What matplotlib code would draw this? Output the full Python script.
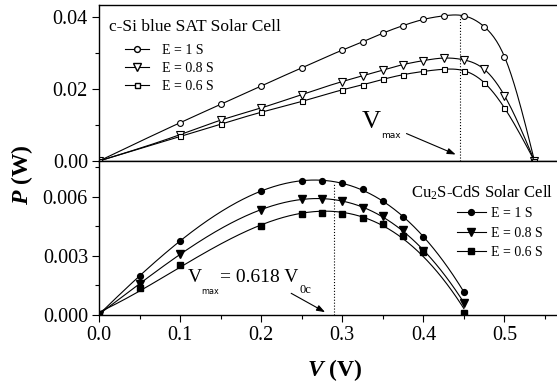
import numpy as np
import matplotlib
matplotlib.use("Agg")
import matplotlib.pyplot as plt
from matplotlib.ticker import MultipleLocator, FormatStrFormatter

plt.rcParams['font.family'] = ['Liberation Serif', 'DejaVu Serif']
plt.rcParams['mathtext.fontset'] = 'custom'
plt.rcParams['mathtext.rm'] = 'Liberation Serif'
plt.rcParams['mathtext.it'] = 'Liberation Serif:italic'
plt.rcParams['mathtext.bf'] = 'Liberation Serif:bold'
plt.rcParams['mathtext.bfit'] = 'Liberation Serif:italic:bold'

# c-Si blue SAT solar cell (top panel)
v_si = [0, 0.1, 0.15, 0.2, 0.25, 0.3, 0.325, 0.35, 0.375, 0.4, 0.425, 0.45, 0.475, 0.5, 0.537]
p_si_1 = [0, 0.0106, 0.0157, 0.0208, 0.0258, 0.0307, 0.0330, 0.0354, 0.0375, 0.0392, 0.0402, 0.0402, 0.0372, 0.0289, 0]
p_si_08 = [0, 0.0073, 0.0113, 0.0147, 0.0184, 0.0220, 0.0236, 0.0252, 0.0267, 0.0278, 0.0285, 0.0280, 0.0254, 0.0181, 0]
p_si_06 = [0, 0.0068, 0.0102, 0.0135, 0.0165, 0.0197, 0.0211, 0.0226, 0.0239, 0.0248, 0.0254, 0.0250, 0.0217, 0.0147, 0]
vmax_si = 0.4455
pmax_si = 0.0402

# Cu2S-CdS solar cell (bottom panel)
v_cu = [0, 0.05, 0.1, 0.2, 0.25, 0.275, 0.3, 0.325, 0.35, 0.375, 0.4, 0.45]
p_cu_1 = [0, 0.00198, 0.00374, 0.00630, 0.00681, 0.00683, 0.00672, 0.00638, 0.00578, 0.00495, 0.00397, 0.00116]
p_cu_08 = [0, 0.00158, 0.00308, 0.00533, 0.00588, 0.00590, 0.00580, 0.00541, 0.00502, 0.00431, 0.00324, 0.00060]
p_cu_06 = [0, 0.00133, 0.00252, 0.00451, 0.00511, 0.00516, 0.00513, 0.00490, 0.00460, 0.00400, 0.00320, 0.00010]
vmax_cu = 0.29
pmax_cu = 0.0067

labels = ['E = 1 S', 'E = 0.8 S', 'E = 0.6 S']


def nat_spline(x, y, xn):
    # natural cubic spline, only used to draw the smooth line through the points
    x = np.asarray(x, float); y = np.asarray(y, float)
    n = len(x); h = np.diff(x)
    A = np.zeros((n, n)); r = np.zeros(n)
    A[0, 0] = A[-1, -1] = 1
    for i in range(1, n - 1):
        A[i, i-1] = h[i-1]; A[i, i] = 2*(h[i-1] + h[i]); A[i, i+1] = h[i]
        r[i] = 3*((y[i+1]-y[i])/h[i] - (y[i]-y[i-1])/h[i-1])
    c = np.linalg.solve(A, r)
    b = (y[1:]-y[:-1])/h - h*(2*c[:-1] + c[1:])/3
    d = (c[1:]-c[:-1])/(3*h)
    k = np.clip(np.searchsorted(x, xn) - 1, 0, n-2)
    t = xn - x[k]
    return y[k] + b[k]*t + c[k]*t**2 + d[k]*t**3


W, H = 557, 385
def fx(px): return px / W
def fy(py): return 1 - py / H

fig = plt.figure(figsize=(5.57, 3.85), dpi=100)
ax1 = fig.add_axes([fx(99), fy(161), fx(558) - fx(99), fy(5) - fy(161)])
ax2 = fig.add_axes([fx(99), fy(314.5), fx(558) - fx(99), fy(161) - fy(314.5)])

lw = 0.8
# top panel
xs = np.linspace(0, v_si[-1], 300)
for p, m, ms in [(p_si_1, 'o', 4.2), (p_si_08, 'v', 5.5), (p_si_06, 's', 3.6)]:
    ax1.plot(xs, nat_spline(v_si, p, xs), color='black', lw=lw)
    ax1.plot(v_si, p, m, ms=ms, mfc='white', mec='black', mew=0.8)
ax1.plot([vmax_si, vmax_si], [0, pmax_si], ':', color='black', lw=0.8)

# bottom panel
xb = np.linspace(0, v_cu[-1], 300)
for p, m, ms in [(p_cu_1, 'o', 4.2), (p_cu_08, 'v', 5.5), (p_cu_06, 's', 3.8)]:
    coef = np.polyfit(v_cu, p, 3)
    ax2.plot(xb, np.polyval(coef, xb), color='black', lw=lw)
    ax2.plot(v_cu, p, m, ms=ms, color='black')
ax2.plot([vmax_cu, vmax_cu], [0, pmax_cu], ':', color='black', lw=0.8)

for ax in (ax1, ax2):
    ax.set_xlim(0, 0.566)
    ax.xaxis.set_major_locator(MultipleLocator(0.1))
    ax.xaxis.set_minor_locator(MultipleLocator(0.05))
    ax.tick_params(which='both', direction='out', top=False, right=False,
                   labelsize=14.5, width=0.8, pad=3)
    ax.tick_params(which='major', length=5)
    ax.tick_params(which='minor', length=3)
    for s in ax.spines.values():
        s.set_linewidth(1.0)

ax1.set_ylim(0, 0.0432)
ax1.yaxis.set_major_locator(MultipleLocator(0.02))
ax1.yaxis.set_minor_locator(MultipleLocator(0.01))
ax1.yaxis.set_major_formatter(FormatStrFormatter('%.2f'))
ax1.tick_params(axis='x', labelbottom=False)

ax2.set_ylim(0, 0.00783)
ax2.yaxis.set_major_locator(MultipleLocator(0.003))
ax2.yaxis.set_minor_locator(MultipleLocator(0.0015))
ax2.yaxis.set_major_formatter(FormatStrFormatter('%.3f'))
ax2.xaxis.set_major_formatter(FormatStrFormatter('%.1f'))

# legends
h1 = [plt.Line2D([], [], color='black', lw=lw, marker=m, ms=ms, mfc='white', mec='black')
      for m, ms in [('o', 4.2), ('v', 5.5), ('s', 3.6)]]
fig.legend(h1, labels, loc='upper left', bbox_to_anchor=(fx(125), fy(43.5)),
           frameon=False, fontsize=10, borderpad=0, borderaxespad=0,
           handlelength=1.7, handletextpad=1.0, labelspacing=0.37)
fig.text(fx(109), fy(26.7), 'c-Si blue SAT Solar Cell', fontsize=12.5, va='center')

h2 = [plt.Line2D([], [], color='black', lw=lw, marker=m, ms=ms)
      for m, ms in [('o', 4.2), ('v', 5.5), ('s', 3.8)]]
fig.legend(h2, labels, loc='upper left', bbox_to_anchor=(fx(456.7), fy(207.2)),
           frameon=False, fontsize=10, borderpad=0, borderaxespad=0,
           handlelength=2.1, handletextpad=0.4, labelspacing=0.47)
fig.text(fx(411), fy(192.7), 'Cu$_2$S-CdS Solar Cell', fontsize=12, va='center')

# V_max annotations
fig.text(fx(371), fy(122), 'V', fontsize=19, ha='center', va='center')
fig.text(fx(380.7), fy(136), 'max', fontsize=6.5, family='DejaVu Sans', va='center')
ax1.annotate('', xy=(0.443, 0.0015), xytext=(0.376, 0.0079),
             arrowprops=dict(arrowstyle='-|>,head_length=0.5,head_width=0.18',
                             color='black', lw=0.8))

fig.text(fx(188), fy(278), 'V', fontsize=14, va='center')
fig.text(fx(201.7), fy(291.7), 'max', fontsize=5.8, family='DejaVu Sans', va='center')
fig.text(fx(220), fy(278), '= 0.618 V', fontsize=14, va='center')
fig.text(fx(300), fy(290), '0c', fontsize=9, va='center')
ax2.annotate('', xy=(0.2818, 0.00005), xytext=(0.234, 0.00115),
             arrowprops=dict(arrowstyle='-|>,head_length=0.5,head_width=0.18',
                             color='black', lw=0.8))

# axis labels
fig.text(fx(335), fy(370), r'$\mathbfit{V}$ (V)', fontsize=17, weight='bold',
         ha='center', va='center')
fig.text(fx(22), fy(175), r'$\mathbfit{P}$ (W)', fontsize=17, weight='bold',
         rotation=90, ha='center', va='center')

fig.savefig('out.png', dpi=100)
